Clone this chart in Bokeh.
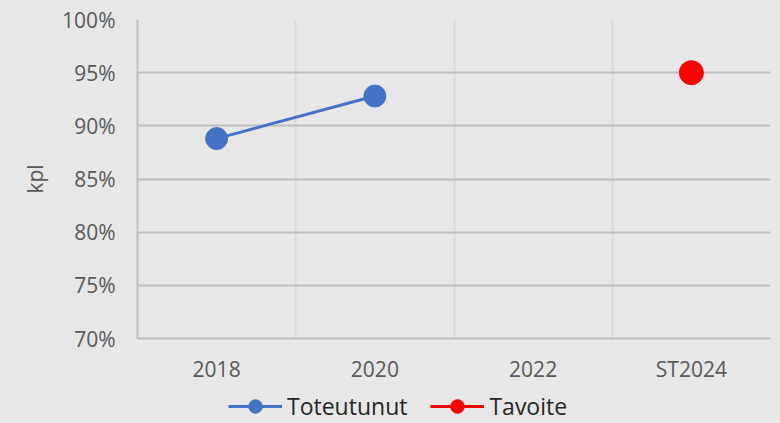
from bokeh.plotting import figure
from bokeh.layouts import column
from bokeh.models import FixedTicker, NumeralTickFormatter, Range1d, Legend, LegendItem
from bokeh.embed import file_html
from bokeh.resources import INLINE

categories = ["2018", "2020", "2022", "ST2024"]
toteutunut_cats = ["2018", "2020"]
toteutunut_values = [0.888, 0.928]
tavoite_cats = ["ST2024"]
tavoite_values = [0.95]
y_ticks = [0.70, 0.75, 0.80, 0.85, 0.90, 0.95, 1.00]
y_label = "kpl"
series_names = ["Toteutunut", "Tavoite"]

pos = {c: i for i, c in enumerate(categories)}
BG = "#e7e7e7"
FONT = "Open Sans"
BLUE = "#4472c4"
RED = "#ff0000"

p = figure(width=780, height=385, output_backend="svg", toolbar_location=None,
           x_range=Range1d(-0.5, len(categories) - 0.5),
           y_range=Range1d(y_ticks[0], y_ticks[-1]),
           min_border_left=137, min_border_right=10,
           min_border_top=19, min_border_bottom=47)
p.background_fill_color = BG
p.border_fill_color = BG
p.outline_line_color = None

# axes
p.xaxis.ticker = FixedTicker(ticks=list(range(len(categories))))
p.xaxis.major_label_overrides = {i: c for i, c in enumerate(categories)}
p.yaxis.ticker = FixedTicker(ticks=y_ticks)
p.yaxis.formatter = NumeralTickFormatter(format="0%")
p.yaxis.axis_label = y_label
for ax in (p.xaxis, p.yaxis):
    ax.major_tick_line_color = None
    ax.minor_tick_line_color = None
    ax.axis_line_color = "#bfbfbf"
    ax.axis_line_width = 2
    ax.major_label_text_font = FONT
    ax.major_label_text_font_size = "21px"
    ax.major_label_text_color = "#595959"
p.xaxis.major_label_standoff = 10
p.yaxis.major_label_standoff = 16
p.yaxis.axis_label_text_font = FONT
p.yaxis.axis_label_text_font_size = "21px"
p.yaxis.axis_label_text_font_style = "normal"
p.yaxis.axis_label_text_color = "#595959"
p.yaxis.axis_label_standoff = 10

# grids
p.xgrid.ticker = FixedTicker(ticks=[i - 0.5 for i in range(len(categories) + 1)])
p.xgrid.grid_line_color = "#d9d9d9"
p.xgrid.grid_line_width = 2
p.ygrid.ticker = FixedTicker(ticks=y_ticks)
p.ygrid.grid_line_color = "#bfbfbf"
p.ygrid.grid_line_width = 2

# series
tx = [pos[c] for c in toteutunut_cats]
p.line(x=tx, y=toteutunut_values, line_color=BLUE, line_width=3)
p.scatter(x=tx, y=toteutunut_values, size=22, fill_color=BLUE, line_color=BLUE)
gx = [pos[c] for c in tavoite_cats]
p.line(x=gx, y=tavoite_values, line_color=RED, line_width=3)
p.scatter(x=gx, y=tavoite_values, size=24, fill_color=RED, line_color=RED)

# legend strip below the chart (legend-only proxy renderers, nothing drawn in plot)
lg = figure(width=780, height=38, output_backend="svg", toolbar_location=None,
            x_range=Range1d(0, 1), y_range=Range1d(0, 1),
            min_border=0, x_axis_type=None, y_axis_type=None)
lg.background_fill_color = None
lg.border_fill_color = BG
lg.outline_line_color = None
lg.grid.visible = False
nan = float("nan")
items = []
for name, color in zip(series_names, [BLUE, RED]):
    r_line = lg.line(x=[nan], y=[nan], line_color=color, line_width=3)
    r_dot = lg.scatter(x=[nan], y=[nan], fill_color=color, line_color=color)
    items.append(LegendItem(label=name, renderers=[r_line, r_dot]))
legend = Legend(items=items, location=(91, 0), orientation="horizontal",
                glyph_width=54, glyph_height=34, label_standoff=5, spacing=23,
                padding=0, margin=0, border_line_color=None,
                background_fill_alpha=0,
                label_text_font=FONT, label_text_font_size="23px",
                label_text_color="#262626")
lg.add_layout(legend, "center")

layout = column(p, lg, spacing=0, styles={"background-color": BG})
open("out.html", "w").write(file_html(layout, INLINE))
